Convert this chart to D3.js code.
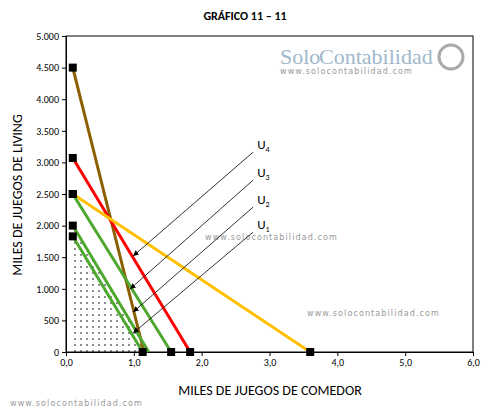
<!DOCTYPE html><html><head><meta charset="utf-8"><script src="https://d3js.org/d3.v7.min.js"></script>
<style>body{margin:0;background:#fff}</style></head><body><svg width="489" height="411"></svg>
<script>
const lines=[
 {c:"#8B5E00",p:[[0.1,4500],[1.15,0]],m:[0]},
 {c:"#FF0000",p:[[0.1,3070],[1.83,0]],m:[0,1]},
 {c:"#FFC000",p:[[0.1,2500],[3.6,0]],m:[0,1]},
 {c:"#4EA72E",p:[[0.1,2500],[1.55,0]],m:[0,1]},
 {c:"#4EA72E",p:[[0.1,2000],[1.22,0]],m:[0]},
 {c:"#4EA72E",p:[[0.1,1830],[1.13,0]],m:[0,1]}];
const arrows=[["4",[2.76,3164],[0.99,1519]],["3",[2.76,2721],[0.945,997]],["2",[2.76,2294],[0.99,633]],["1",[2.76,1898],[0.99,300]]];
const xTicks=[0,1,2,3,4,5,6], yTicks=[0,500,1000,1500,2000,2500,3000,3500,4000,4500,5000];
const svg=d3.select("svg");
const x=d3.scaleLinear([0,6],[66,473]), y=d3.scaleLinear([0,5000],[352,36]);
const F="Carlito, Calibri, 'Open Sans', sans-serif";
svg.append("text").attr("x",245).attr("y",20).attr("text-anchor","middle").attr("font-family",F).attr("font-weight","bold").attr("font-size",12).text("GRÁFICO 11 – 11");
const defs=svg.append("defs");
const pat=defs.append("pattern").attr("id","dots").attr("width",6).attr("height",6).attr("patternUnits","userSpaceOnUse");
pat.append("circle").attr("cx",3).attr("cy",3).attr("r",0.8).attr("fill","#000");
defs.append("marker").attr("id","ah").attr("viewBox","0 0 10 10").attr("refX",10).attr("refY",5).attr("markerWidth",7).attr("markerHeight",7).attr("orient","auto").append("path").attr("d","M0,0L10,5L0,10z").attr("fill","#000");
svg.append("rect").attr("x",x(0)).attr("y",y(5000)).attr("width",x(6)-x(0)).attr("height",y(0)-y(5000)).attr("fill","none").attr("stroke","#000");
svg.append("path").attr("d",d3.line()([[x(0.1),y(0)],[x(0.1),y(2000)],[x(1.22),y(0)]])+"Z").attr("fill","url(#dots)");
const wm=(tx,ty,s)=>svg.append("text").attr("x",tx).attr("y",ty).attr("font-family","'DejaVu Sans',sans-serif").attr("font-size",s).attr("fill","#999").attr("letter-spacing",1.1).text("www.solocontabilidad.com");
wm(205,240,8);wm(307,316,8);wm(10,406,8);wm(280,74,8);
svg.append("text").attr("x",280).attr("y",64).attr("font-family","'Liberation Serif',serif").attr("font-size",22).attr("fill","#9fb8cc").text("Solo");
svg.append("text").attr("x",319).attr("y",64).attr("font-family","'Liberation Serif',serif").attr("font-size",22).attr("fill","#9fb8cc").text("Contabilidad");
svg.append("circle").attr("cx",451).attr("cy",57).attr("r",12).attr("fill","none").attr("stroke","#aaa").attr("stroke-width",3);
const ax=svg.append("g").attr("transform",`translate(0,${y(0)})`).call(d3.axisBottom(x).tickValues(xTicks).tickSize(4).tickFormat(d=>d.toFixed(1).replace(".",",")));
const ay=svg.append("g").attr("transform",`translate(${x(0)},0)`).call(d3.axisLeft(y).tickValues(yTicks).tickSize(4).tickFormat(d=>d3.format(",")(d).replace(",",".")));
[ax,ay].forEach(g=>{g.selectAll("text").attr("font-family",F).attr("font-size",10).attr("fill","#000");g.select(".domain").attr("stroke","#000");});
svg.append("text").attr("x",270).attr("y",395).attr("text-anchor","middle").attr("font-family",F).attr("font-size",14).text("MILES DE JUEGOS DE COMEDOR");
svg.append("text").attr("transform","translate(22,195) rotate(-90)").attr("text-anchor","middle").attr("font-family",F).attr("font-size",14).text("MILES DE JUEGOS DE LIVING");
lines.forEach(l=>{svg.append("path").attr("d",d3.line().x(d=>x(d[0])).y(d=>y(d[1]))(l.p)).attr("stroke",l.c).attr("stroke-width",3).attr("fill","none");});
lines.forEach(l=>l.m.forEach(i=>svg.append("rect").attr("x",x(l.p[i][0])-4).attr("y",y(l.p[i][1])-4).attr("width",8).attr("height",8).attr("fill","#000")));
arrows.forEach(a=>{svg.append("line").attr("x1",x(a[1][0])).attr("y1",y(a[1][1])).attr("x2",x(a[2][0])).attr("y2",y(a[2][1])).attr("stroke","#000").attr("stroke-width",0.8).attr("marker-end","url(#ah)");
 const t=svg.append("text").attr("x",x(a[1][0])+4).attr("y",y(a[1][1])-3).attr("font-family",F).attr("font-size",13).text("U");
 t.append("tspan").attr("font-size",8).attr("dy",3).text(a[0]);});
</script></body></html>
